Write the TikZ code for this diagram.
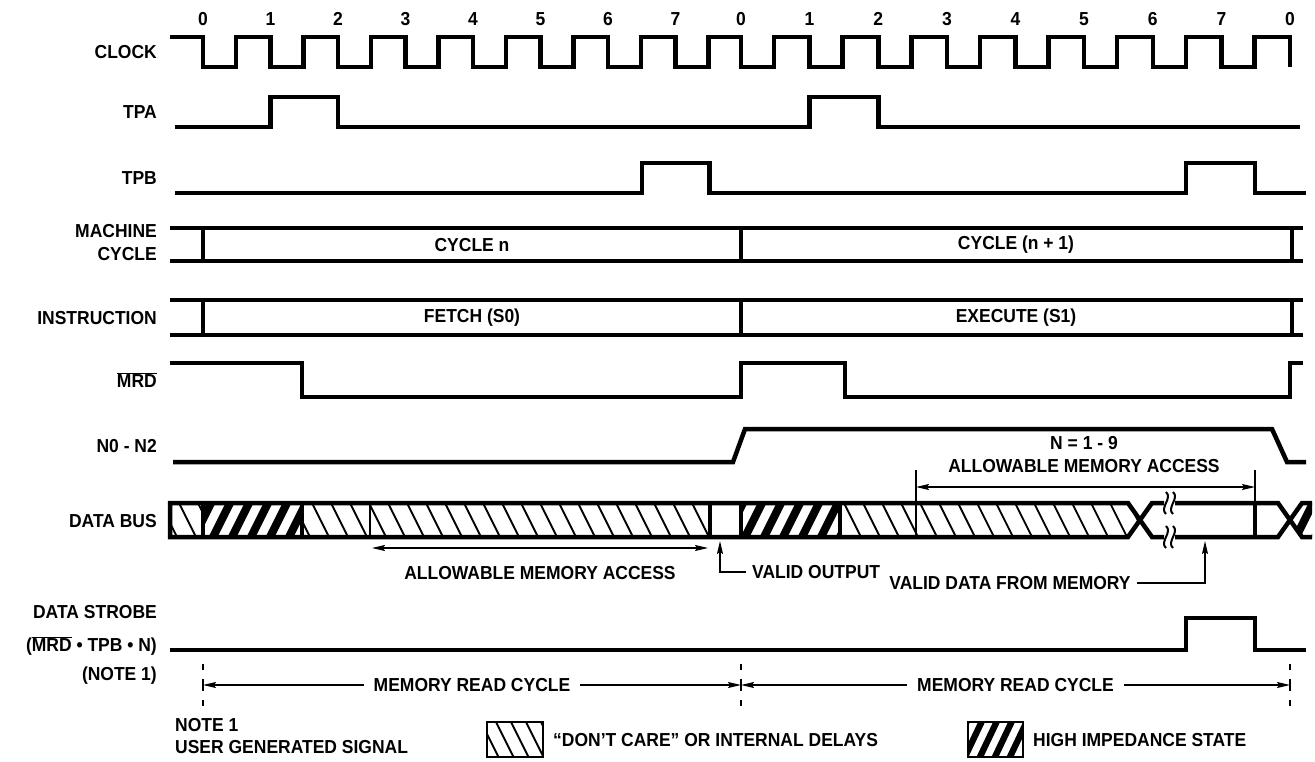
\documentclass[tikz,border=0pt]{standalone}
\usepackage{fontspec}
\setmainfont{Liberation Sans}[FakeStretch=0.93]
\usetikzlibrary{arrows.meta}
\begin{document}
\begin{tikzpicture}[x=1pt,y=-1pt,
  font=\fontsize{18.8}{21}\selectfont\bfseries,
  sig/.style={line width=4.5pt, line join=miter},
  bus/.style={line width=4.5pt, line join=miter},
  sepl/.style={line width=4.5pt},
  thinl/.style={line width=1.5pt},
  dcl/.style={line width=1.8pt},
  lbl/.style={anchor=east, inner sep=0pt},
  txt/.style={inner sep=0pt},
  tipa/.tip={Stealth[length=13pt,width=6pt,inset=2pt]},
  arr/.style={line width=1.4pt},
]
\useasboundingbox (0,0) rectangle (1315,761);

% ---------- clock numbers ----------
\foreach \f/\n [count=\i] in {203/0,270.5/1,338/2,405.5/3,473/4,540.5/5,608/6,675.5/7,741/0,809.6/1,878.3/2,946.9/3,1015.5/4,1084.1/5,1152.8/6,1221.4/7,1290/0}
  \node[txt,anchor=base] (num\i) at (\f,25) {\n};

% ---------- left labels ----------
\node[lbl] (lclk) at (157,52) {CLOCK};
\node[lbl] (ltpa) at (157,112) {TPA};
\node[lbl] (ltpb) at (157,178) {TPB};
\node[lbl] (lmc1) at (157,231) {MACHINE};
\node[lbl] (lmc2) at (157,254) {CYCLE};
\node[lbl] (lins) at (157,318) {INSTRUCTION};
\node[lbl] (lmrd) at (157,380) {$\overline{\mbox{MRD}}$};
\node[lbl] (ln) at (157,446) {N0 - N2};
\node[lbl] (ldb) at (157,521) {DATA BUS};
\node[lbl] (lds1) at (157,612) {DATA STROBE};
\node[lbl] (lds2) at (157,646) {($\overline{\mbox{MRD}}$ • TPB • N)};
\node[lbl] (lds3) at (157,676) {(NOTE 1)};

% ---------- CLOCK ----------
\draw[sig] (170,37) \foreach \f in {203,270.5,338,405.5,473,540.5,608,675.5,741,809.6,878.3,946.9,1015.5,1084.1,1152.8,1221.4}
  { -- (\f,37) -- (\f,67) -- ({\f+33},67) -- ({\f+33},37) } -- (1290,37) -- (1290,67);

% ---------- TPA ----------
\draw[sig] (175,127) -- (270.5,127) -- (270.5,97) -- (338,97) -- (338,127) -- (809.6,127) -- (809.6,97) -- (878.3,97) -- (878.3,127) -- (1300,127);

% ---------- TPB ----------
\draw[sig] (175,193) -- (642,193) -- (642,163) -- (709.5,163) -- (709.5,193) -- (1186,193) -- (1186,163) -- (1255,163) -- (1255,193) -- (1306,193);

% ---------- MACHINE CYCLE ----------
\draw[bus] (170,228) -- (1303,228);
\draw[bus] (170,261) -- (1303,261);
\foreach \x in {203,741,1292} \draw[sepl] (\x,228) -- (\x,261);
\node[txt] (cyn) at (472,245) {CYCLE n};
\node[txt] (cyn1) at (1016,245) {CYCLE (n + 1)};

% ---------- INSTRUCTION ----------
\draw[bus] (170,300) -- (1303,300);
\draw[bus] (170,335) -- (1303,335);
\foreach \x in {203,741,1292} \draw[sepl] (\x,300) -- (\x,335);
\node[txt] (fetch) at (472,318) {FETCH (S0)};
\node[txt] (exec) at (1016,318) {EXECUTE (S1)};

% ---------- MRD ----------
\draw[sig] (170,363) -- (302,363) -- (302,397) -- (741,397) -- (741,363) -- (845,363) -- (845,397) -- (1290,397) -- (1290,363) -- (1303,363);

% ---------- N0 - N2 ----------
\draw[sig] (173,462) -- (733,462) -- (745,429) -- (1272,429) -- (1287,462) -- (1306,462);
\node[txt] (n19) at (1084,443) {N = 1 - 9};
\node[txt] (ama1) at (1084,466) {ALLOWABLE MEMORY ACCESS};

% ---------- DATA BUS ----------
% don't care hatch
\begin{scope}
\clip (170,503) rectangle (203,537) (302,503) rectangle (710,537) (840,503) rectangle (916,537)
      (916,503) -- (1128,503) -- (1140,520) -- (1128,537) -- (916,537) -- cycle;
\foreach \k in {-2,...,62} \draw[dcl] ({160+19*\k-1.5},500) -- ++(20,40);
\end{scope}
% high impedance hatch
\begin{scope}
\clip (203,503) rectangle (302,537) (741,503) rectangle (840,537)
      (1290,520) -- (1302,503) -- (1312,503) -- (1312,537) -- (1302,537) -- cycle;
\foreach \k in {-2,...,62} \fill ({150+19*\k},540) -- ++(9,0) -- ++(20,-40) -- ++(-9,0) -- cycle;
\end{scope}
% outline
\draw[bus] (1164,537) -- (1152,537) -- (1128,503) -- (170,503) -- (170,537) -- (1128,537) -- (1152,503) -- (1164,503);
\draw[bus] (1175,503) -- (1278,503) -- (1302,537) -- (1312,537);
\draw[bus] (1175,537) -- (1278,537) -- (1302,503) -- (1312,503);
\foreach \x in {203,302,710,741,840,1255} \draw[sepl] (\x,503) -- (\x,537);
\draw[line width=2.5pt] (370,503) -- (370,537);
% break marks
\foreach \x in {1166,1173} \foreach \y in {503,537}
  \draw[line width=2pt] (\x,{\y-11}) .. controls ({\x+7},{\y-5}) and ({\x-7},{\y+5}) .. (\x,{\y+11});

% upper allowable arrow
\coordinate (ua1) at (916,487);
\coordinate (ua2) at (1255,487);
\draw[thinl] (916,470) -- (916,537);
\draw[thinl] (1255,470) -- (1255,503);
\draw[arr,tipa-tipa] (ua1) -- (ua2);

% lower allowable arrow
\coordinate (la1) at (372,548);
\coordinate (la2) at (708,548);
\draw[arr,tipa-tipa] (la1) -- (la2);
\node[txt] (ama2) at (540,573) {ALLOWABLE MEMORY ACCESS};

% valid output
\node[txt,anchor=west] (vo) at (752,572) {VALID OUTPUT};
\coordinate (vo1) at (720,572);
\coordinate (vo2) at (720,541);
\draw[arr,-tipa] (vo.west) ++(-6,0) -- (vo1) -- (vo2);

% valid data from memory
\node[txt] (vd) at (1010,583) {VALID DATA FROM MEMORY};
\coordinate (vd1) at (1205,583);
\coordinate (vd2) at (1205,541);
\draw[arr,-tipa] (vd.east) ++(6,0) -- (vd1) -- (vd2);

% ---------- DATA STROBE ----------
\draw[sig] (170,650) -- (1186,650) -- (1186,618) -- (1255,618) -- (1255,650) -- (1306,650);

% memory read cycle
\foreach \x in {203,741,1290} {
  \draw[thinl] (\x,664) -- (\x,670);
  \draw[thinl] (\x,679) -- (\x,691);
  \draw[thinl] (\x,700) -- (\x,706);
}
\coordinate (m1) at (203,685);
\coordinate (m2) at (741,685);
\coordinate (m3) at (1290,685);
\draw[arr,tipa-tipa] (m1) -- node[txt,fill=white,inner xsep=10pt,inner ysep=2pt] (mrc1) {MEMORY READ CYCLE} (m2);
\draw[arr,tipa-tipa] (m2) -- node[txt,fill=white,inner xsep=10pt,inner ysep=2pt] (mrc2) {MEMORY READ CYCLE} (m3);

% ---------- LEGEND ----------
\node[txt,anchor=west] (note1) at (175,725) {NOTE 1};
\node[txt,anchor=west] (note2) at (175,747) {USER GENERATED SIGNAL};

\begin{scope}
\clip (487,722) rectangle (543,757);
\foreach \k in {-2,...,5} \draw[dcl] ({480+15*\k},720) -- ++(19,38);
\end{scope}
\draw[line width=2pt] (487,722) rectangle (543,757);
\node[txt,anchor=west] (dc) at (553,740) {“DON’T CARE” OR INTERNAL DELAYS};

\begin{scope}
\clip (968,722) rectangle (1023,757);
\foreach \k in {-2,...,5} \fill ({960+15*\k},760) -- ++(7,0) -- ++(19,-40) -- ++(-7,0) -- cycle;
\end{scope}
\draw[line width=2pt] (968,722) rectangle (1023,757);
\node[txt,anchor=west] (hz) at (1033,740) {HIGH IMPEDANCE STATE};

\end{tikzpicture}
\end{document}
